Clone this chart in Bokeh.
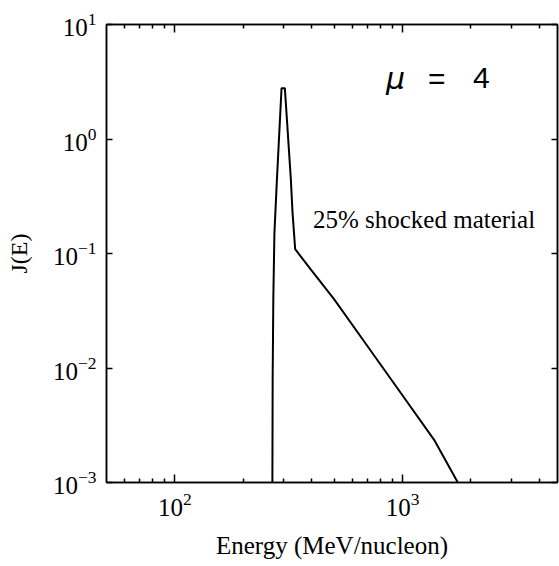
from bokeh.plotting import figure
from bokeh.models import LogAxis, FixedTicker, Label, Range1d
from bokeh.embed import file_html
from bokeh.resources import INLINE

# spectrum J(E) vs energy (MeV/nucleon)
energy = [268, 268.7, 270.5, 273.5, 280.6, 294, 304, 323, 328.5, 337.5, 395, 501, 702, 983, 1377, 1750]
flux = [1.0e-3, 7.9e-3, 0.04, 0.15, 0.446, 2.78, 2.78, 0.446, 0.23, 0.109, 0.0727, 0.0397, 0.0155, 0.00605, 0.00236, 1.0e-3]

x_major = [100, 1000]
x_minor = [60, 70, 80, 90, 200, 300, 400, 500, 600, 700, 800, 900, 2000, 3000, 4000]
y_major = [1e-3, 1e-2, 1e-1, 1, 10]

x_lim = (50, 4800)
y_lim = (1e-3, 10)

SERIF = "Liberation Serif"

p = figure(width=559, height=566, x_axis_type="log", y_axis_type="log",
           x_range=Range1d(*x_lim), y_range=Range1d(*y_lim),
           output_backend="svg", toolbar_location=None,
           min_border_left=106, min_border_right=2, min_border_top=24,
           min_border_bottom=84)
p.background_fill_color = "white"
p.border_fill_color = "white"
p.xgrid.visible = False
p.ygrid.visible = False
p.outline_line_color = "black"
p.outline_line_width = 1.5

p.line(energy, flux, line_color="black", line_width=2)


def style_axis(ax, is_x, show_labels):
    if is_x:
        ax.ticker = FixedTicker(ticks=x_major, minor_ticks=x_minor)
        ax.major_tick_in = 8
        ax.minor_tick_in = 4
    else:
        ax.ticker = FixedTicker(ticks=y_major, minor_ticks=[])
        ax.major_tick_in = 6
        ax.minor_tick_in = 0
    ax.major_tick_out = 0
    ax.minor_tick_out = 0
    ax.axis_line_color = "black"
    ax.axis_line_width = 1.5
    ax.major_tick_line_color = "black"
    ax.major_tick_line_width = 1.5
    ax.minor_tick_line_color = "black"
    ax.minor_tick_line_width = 1.5
    if show_labels:
        ax.major_label_text_font = SERIF
        ax.major_label_text_font_size = "25px"
        ax.major_label_text_color = "black"
        ax.major_label_standoff = 10
        ax.axis_label_text_font = SERIF
        ax.axis_label_text_font_size = "25px"
        ax.axis_label_text_font_style = "normal"
        ax.axis_label_text_color = "black"
    else:
        ax.major_label_text_font_size = "1px"
        ax.major_label_text_alpha = 0
        ax.major_label_standoff = 0


style_axis(p.xaxis[0], True, True)
style_axis(p.yaxis[0], False, True)
p.xaxis.axis_label = "Energy (MeV/nucleon)"
p.xaxis.axis_label_standoff = 13
p.yaxis.axis_label = "J(E)"
p.yaxis.axis_label_text_font_size = "24px"
p.yaxis.axis_label_standoff = 18

top = LogAxis()
style_axis(top, True, False)
p.add_layout(top, "above")
right = LogAxis()
style_axis(right, False, False)
p.add_layout(right, "right")

p.add_layout(Label(x=404, y=0.15, text="25% shocked material",
                   text_font=SERIF, text_font_size="25px", text_color="black",
                   text_baseline="bottom"))
mu_y = 3.38
p.add_layout(Label(x=846, y=mu_y, text="μ", text_font="DejaVu Sans",
                   text_font_style="italic", text_font_size="30px",
                   text_color="black", text_baseline="alphabetic"))
p.add_layout(Label(x=1294, y=mu_y, text="=", text_font="Liberation Sans",
                   text_font_size="30px", text_color="black",
                   text_baseline="alphabetic"))
p.add_layout(Label(x=2042, y=mu_y, text="4", text_font="Liberation Sans",
                   text_font_size="30px", text_color="black",
                   text_baseline="alphabetic"))

open("out.html", "w").write(file_html(p, INLINE))
